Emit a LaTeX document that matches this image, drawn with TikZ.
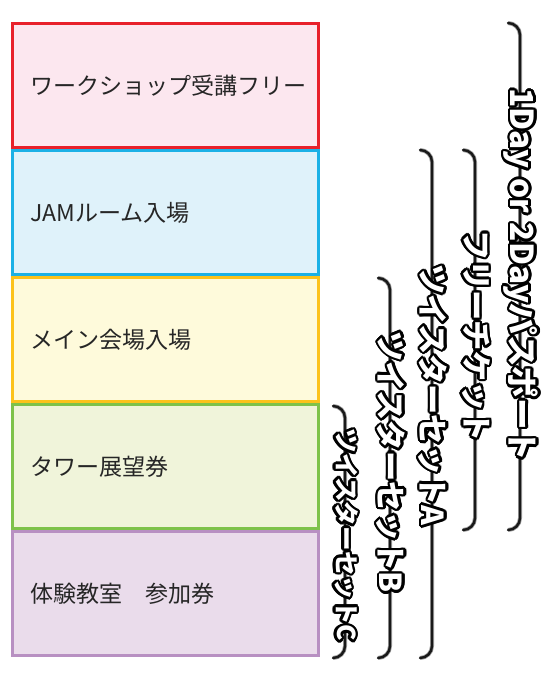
\documentclass[tikz,border=0pt]{standalone}
\usepackage{fontspec}
\usepackage{xcolor}
\usepackage{contour}
\usepackage{tikz}
\usetikzlibrary{positioning}
\newfontfamily\jpfont{Noto Sans CJK JP}
\definecolor{redline}{HTML}{E8212B}
\definecolor{redfill}{HTML}{FCE7EF}
\definecolor{blueline}{HTML}{1BB1E6}
\definecolor{bluefill}{HTML}{DFF2FA}
\definecolor{yellowline}{HTML}{FCC21B}
\definecolor{yellowfill}{HTML}{FEFADB}
\definecolor{greenline}{HTML}{7EC24A}
\definecolor{greenfill}{HTML}{F0F4DA}
\definecolor{purpleline}{HTML}{B890C2}
\definecolor{purplefill}{HTML}{EADCEB}
\contourlength{1.8pt}
\newcommand{\gap}{\hspace*{0.3em}}
\tikzset{
  ticket/.style={draw, line width=0.075cm, rectangle, minimum width=7.625cm,
    minimum height=3.1cm, inner sep=0pt},
  ticketlabel/.style={anchor=west, inner sep=0pt, font=\jpfont\fontsize{16.4}{19}\selectfont,
    text=black!85},
  bracket/.style={line width=0.06cm, draw=black!90, line cap=round,
    preaction={draw=black!40, line width=0.1cm}},
  passlabel/.style={rotate=-90, inner sep=0pt, font=\jpfont\bfseries}
}

\begin{document}
\begin{tikzpicture}[x=0.025cm, y=0.025cm]
  \useasboundingbox (0,0) rectangle (550,-679);

  % ticket boxes
  \node[ticket, draw=redline, fill=redfill] (workshop) at (165.5,-85.5) {};
  \node[ticket, draw=blueline, fill=bluefill] (jam) at (165.5,-212.5) {};
  \node[ticket, draw=yellowline, fill=yellowfill] (hall) at (165.5,-339.5) {};
  \node[ticket, draw=greenline, fill=greenfill] (tower) at (165.5,-466.5) {};
  \node[ticket, draw=purpleline, fill=purplefill] (lesson) at (165.5,-593.5) {};

  \node[ticketlabel] (workshop-t) at ([xshift=0.46cm]workshop.west) {ワークショップ受講フリー};
  \node[ticketlabel] (jam-t) at ([xshift=0.46cm]jam.west) {JAMルーム入場};
  \node[ticketlabel] (hall-t) at ([xshift=0.46cm]hall.west) {メイン会場入場};
  \node[ticketlabel] (tower-t) at ([xshift=0.46cm]tower.west) {タワー展望券};
  \node[ticketlabel] (lesson-t) at ([xshift=0.46cm]lesson.west) {体験教室　参加券};

  % brackets with the ticket names
  \foreach \nm/\x/\yt/\yb/\yc/\fs/\txt in {
      pass/520/23/530/275/22.5/{1Day\gap or\gap 2Dayパスポート},
      free/475/150/530/336/21.5/{フリーチケット},
      setA/432/150/658/395/21.5/{ツイスターセットA},
      setB/390/278/658/462/21.5/{ツイスターセットB},
      setC/345/406/658/535/17.5/{ツイスターセットC}} {
    \coordinate (\nm-top) at (\x-12,-\yt);
    \coordinate (\nm-bot) at (\x-12,-\yb);
    \draw[bracket] (\nm-top) arc[start angle=90, end angle=0, radius=12]
      -- ++(0,-\yb+\yt+24) arc[start angle=0, end angle=-90, radius=12];
    \node[passlabel] (\nm) at (\x,-\yc)
      {\fontsize{\fs}{\fs}\selectfont\contour{black}{\textcolor{white}{\txt}}};
  }
\end{tikzpicture}
\end{document}
